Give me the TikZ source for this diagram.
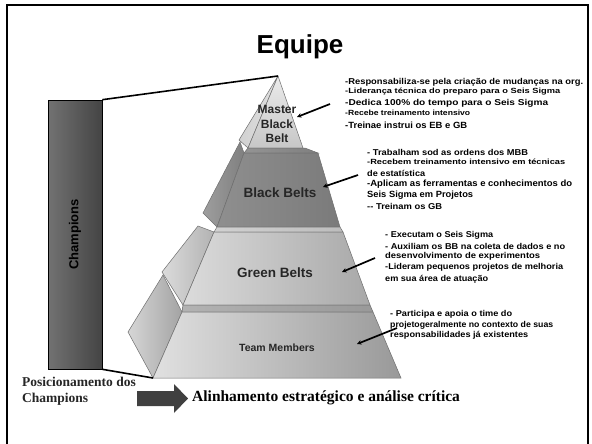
\documentclass[tikz,border=0pt]{standalone}
\usepackage{graphicx}
\usepackage{fontspec}
\setmainfont{Liberation Serif}
\newfontfamily\arialfont{Liberation Sans}
\usetikzlibrary{arrows.meta}

% grays of the pyramid
\definecolor{edgegray}{HTML}{6E6E6E}
\definecolor{barleft}{HTML}{727272}
\definecolor{barright}{HTML}{444444}
\definecolor{arrowgray}{HTML}{404040}

% a line of notes, stretched horizontally to a given width
\newcommand{\fitw}[3]{\resizebox{#1pt}{\height}{\fontsize{#2}{#2}\selectfont #3}}

\tikzset{
  face/.style={draw=edgegray, line width=0.5pt},
  note/.style={anchor=west, inner sep=0pt, font=\arialfont\bfseries, text=black},
  tierlabel/.style={inner sep=0pt, font=\arialfont\bfseries, text=black!85},
  ptr/.style={line width=1.7pt, -{Stealth[length=4.5pt,width=4.5pt]}},
  link/.style={line width=1.6pt},
  champbar/.style={draw=black, line width=0.6pt, left color=barleft, right color=barright,
    minimum width=54pt, minimum height=269pt, inner sep=0pt},
}

\begin{document}
\begin{tikzpicture}[x=1pt,y=-1pt]
\useasboundingbox (0,0) rectangle (592,444);
\fill[white] (0,0) rectangle (592,444);

% slide frame
\draw[line width=1.8pt] (7,450) -- (7,5) -- (588,5) -- (588,450);

% title
\node[font=\arialfont\bfseries\fontsize{26}{26}\selectfont] (title) at (300,47) {Equipe};

% ---------- pyramid ----------
\coordinate (apex) at (278,76);
\coordinate (pbl) at (153,378);

% Master Black Belt
\shade[face, left color=black!18, right color=black!12] (apex) -- (248,148) -- (239,140) -- cycle;
\shade[face, top color=black!8, bottom color=black!22] (apex) -- (303,148) -- (248,148) -- cycle;
\shade[face, left color=black!42, right color=black!50] (248,148) -- (305,148) -- (318,153) -- (244,153) -- cycle;

% Black Belts
\shade[face, left color=black!38, right color=black!50] (240,142) -- (203,213) -- (217,227) -- (244,153) -- cycle;
\shade[face, left color=black!44, right color=black!52] (244,153) -- (318,153) -- (340,227) -- (217,227) -- cycle;
\shade[face, left color=black!18, right color=black!26] (217,227) -- (340,227) -- (343,232) -- (214,232) -- cycle;

% Green Belts
\shade[face, left color=black!14, right color=black!30] (198,226) -- (162,272) -- (183,305) -- (214,232) -- cycle;
\shade[face, left color=black!14, right color=black!34] (214,232) -- (343,232) -- (370,305) -- (183,305) -- cycle;
\shade[face, left color=black!30, right color=black!40] (183,305) -- (370,305) -- (373,312) -- (182,312) -- cycle;

% Team Members
\shade[face, left color=black!16, right color=black!36] (163,275) -- (128,332) -- (pbl) -- (182,312) -- cycle;
\shade[face, left color=black!12, right color=black!40] (182,312) -- (373,312) -- (401,378) -- (pbl) -- cycle;

% tier labels
\node[tierlabel, align=center, font=\arialfont\bfseries\fontsize{12}{14.5}\selectfont] (mbb) at (277,124) {Master\\Black\\Belt};
\node[tierlabel, font=\arialfont\bfseries\fontsize{13.5}{14}\selectfont] (bb) at (280,193) {Black Belts};
\node[tierlabel, font=\arialfont\bfseries\fontsize{13.5}{14}\selectfont] (gb) at (275,273) {Green Belts};
\node[tierlabel, font=\arialfont\bfseries\fontsize{10.5}{12}\selectfont] (tm) at (277,348) {Team Members};

% ---------- Champions ----------
\node[champbar] (champ) at (75,234.5) {};
\node[rotate=90, inner sep=0pt, text=black, font=\arialfont\bfseries\fontsize{13}{13}\selectfont] (champlabel) at (champ.center) {Champions};
\draw[link] (champ.north east) -- (apex);
\draw[link] (champ.south east) -- (pbl);

% ---------- notes ----------
\node[note] (m1) at (345,82) {\fitw{238}{8.5}{-Responsabiliza-se pela criação de mudanças na org.}};
\node[note] (m2) at (345,92) {\fitw{215}{7.5}{-Liderança técnica do preparo para o Seis Sigma}};
\node[note] (m3) at (345,103) {\fitw{203}{8.5}{-Dedica 100\% do tempo para o Seis Sigma}};
\node[note] (m4) at (345,113) {\fitw{125}{7.5}{-Recebe treinamento intensivo}};
\node[note] (m5) at (345,125) {\fitw{122}{9}{-Treinae instrui os EB e GB}};

\node[note] (b1) at (367,152) {\fitw{161}{8.5}{- Trabalham sod as ordens dos MBB}};
\node[note] (b2) at (367,162) {\fitw{198}{7.5}{-Recebem treinamento intensivo em técnicas}};
\node[note] (b3) at (367,173) {\fitw{58}{8.5}{de estatística}};
\node[note] (b4) at (367,184) {\fitw{205}{9}{-Aplicam as ferramentas e conhecimentos do}};
\node[note] (b5) at (367,195) {\fitw{106}{9}{Seis Sigma em Projetos}};
\node[note] (b6) at (367,206) {\fitw{75}{8.5}{-- Treinam os GB}};

\node[note] (g1) at (385,235) {\fitw{108}{8.5}{- Executam o Seis Sigma}};
\node[note] (g2) at (385,246) {\fitw{180}{8.5}{- Auxiliam os BB na coleta de dados e no}};
\node[note] (g3) at (385,256) {\fitw{155}{8.5}{desenvolvimento de experimentos}};
\node[note] (g4) at (385,267) {\fitw{178}{8.5}{-Lideram pequenos projetos de melhoria}};
\node[note] (g5) at (385,279) {\fitw{103}{8.5}{em sua área de atuação}};

\node[note] (t1) at (390,314) {\fitw{122}{8.5}{- Participa e apoia o time do}};
\node[note] (t2) at (390,325) {\fitw{163}{8.5}{projetogeralmente no contexto de suas}};
\node[note] (t3) at (390,335) {\fitw{138}{8.5}{responsabilidades já existentes}};

% pointers from the notes to the tiers
\coordinate (mbbtail) at (330,104);  \coordinate (mbbhead) at (297,117);
\coordinate (bbtail)  at (358,175);  \coordinate (bbhead)  at (323,187);
\coordinate (gbtail)  at (375,258);  \coordinate (gbhead)  at (342,272);
\coordinate (tmtail)  at (397,328);  \coordinate (tmhead)  at (357,344);
\draw[ptr] (mbbtail) -- (mbbhead);
\draw[ptr] (bbtail) -- (bbhead);
\draw[ptr] (gbtail) -- (gbhead);
\draw[ptr] (tmtail) -- (tmhead);

% ---------- bottom line ----------
\node[anchor=west, inner sep=0pt, align=left, font=\bfseries\fontsize{13.5}{16}\selectfont, text=black!85] (pos) at (22,391) {Posicionamento dos\\Champions};
% block arrow
\fill[arrowgray] (137,391) -- (174,391) -- (174,384) -- (188,398.5) -- (174,413) -- (174,406) -- (137,406) -- cycle;
\node[anchor=west, inner sep=0pt, font=\bfseries\fontsize{15.5}{16}\selectfont] (align) at (192,398) {Alinhamento estratégico e análise crítica};
\end{tikzpicture}
\end{document}
